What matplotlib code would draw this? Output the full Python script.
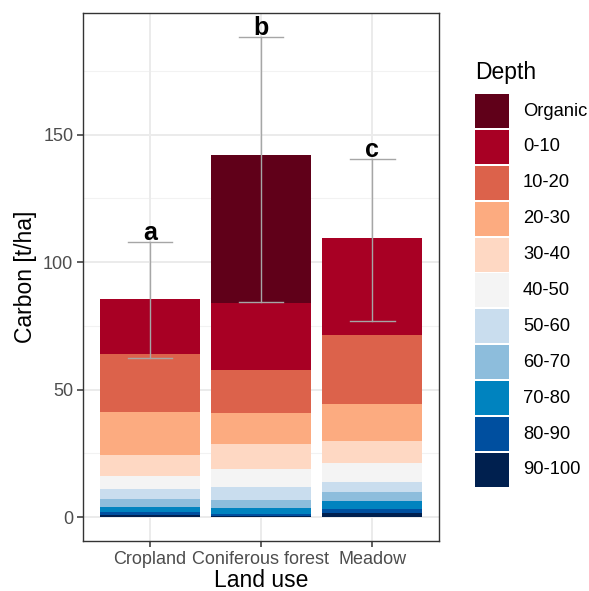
import numpy as np
import matplotlib
matplotlib.use('Agg')
import matplotlib.pyplot as plt
from matplotlib.patches import Rectangle

plt.rcParams['font.family'] = ['Liberation Sans', 'DejaVu Sans']

land_use = ['Cropland', 'Coniferous forest', 'Meadow']
depths = ['Organic', '0-10', '10-20', '20-30', '30-40', '40-50',
          '50-60', '60-70', '70-80', '80-90', '90-100']
colors = ['#600019', '#a80024', '#dc624b', '#fcab80', '#fed8c3', '#f4f4f4',
          '#c9ddee', '#8dbddc', '#0083bf', '#004f9f', '#00204f']

# carbon stock per depth layer (t/ha), same order as depths
cropland = [0.0, 21.9, 22.6, 16.9, 8.1, 5.2, 4.0, 3.0, 2.0, 1.2, 0.8]
coniferous = [58.0, 26.4, 16.8, 11.9, 10.0, 7.1, 5.2, 3.1, 2.2, 0.8, 0.4]
meadow = [0.0, 38.1, 27.2, 14.6, 8.4, 7.5, 3.9, 3.5, 3.4, 1.6, 1.4]

err_low = [62.5, 84.3, 76.7]
err_high = [107.8, 188.3, 140.3]
letters = ['a', 'b', 'c']

values = np.array([cropland, coniferous, meadow])
x = np.arange(1, len(land_use) + 1)

W, H = 589, 591
fig = plt.figure(figsize=(W / 100, H / 100), dpi=100)
ax = fig.add_axes([83 / W, 50 / H, 356 / W, 528 / H])

# minor + major grid like theme_bw
for v in [25, 75, 125, 175]:
    ax.axhline(v, color='#f2f2f2', lw=0.8, zorder=0)
for v in [0, 50, 100, 150]:
    ax.axhline(v, color='#ebebeb', lw=1.4, zorder=0)
for v in x:
    ax.axvline(v, color='#ebebeb', lw=1.4, zorder=0)

# stack from deepest layer upward
bottom = np.zeros(len(land_use))
for i in range(len(depths) - 1, -1, -1):
    ax.bar(x, values[:, i], bottom=bottom, width=0.9, color=colors[i],
           edgecolor='none', zorder=2)
    bottom += values[:, i]

for xi, lo, hi, lab in zip(x, err_low, err_high, letters):
    ax.plot([xi, xi], [lo, hi], color='#a6a6a6', lw=1.0, zorder=3)
    ax.plot([xi - 0.2, xi + 0.2], [lo, lo], color='#a6a6a6', lw=1.0, zorder=3)
    ax.plot([xi - 0.2, xi + 0.2], [hi, hi], color='#a6a6a6', lw=1.0, zorder=3)
    ax.text(xi, hi - 1, lab, ha='center', va='bottom', fontsize=18,
            fontweight='bold', color='black', zorder=4)

ax.set_xlim(0.4, 3.6)
ax.set_ylim(-9.4, 197.7)
ax.set_xticks(x)
ax.set_xticklabels(land_use)
ax.set_yticks([0, 50, 100, 150])
ax.tick_params(axis='both', colors='#333333', labelcolor='#4d4d4d',
               labelsize=13, length=4, width=1.1, pad=3)
for s in ax.spines.values():
    s.set_color('#333333')
    s.set_linewidth(1.0)

ax.set_xlabel('Land use', fontsize=16.5, labelpad=1)
ax.set_ylabel('Carbon [t/ha]', fontsize=16.5, labelpad=4)

# legend drawn as keys in figure pixels (ggplot style)
key_x, key_top, key_w, key_h, step = 475, 94, 34, 34, 35.9
fig.text(key_x / W, 1 - 73 / H, 'Depth', fontsize=16.5, va='center', ha='left')
for i, (lab, c) in enumerate(zip(depths, colors)):
    top = key_top + i * step
    fig.add_artist(Rectangle((key_x / W, 1 - (top + key_h) / H), key_w / W,
                             key_h / H, transform=fig.transFigure,
                             facecolor=c, edgecolor='none'))
    fig.text(523 / W, 1 - (top + key_h / 2) / H, lab, fontsize=13.2,
             va='center', ha='left')

fig.savefig('out.png', dpi=100)
